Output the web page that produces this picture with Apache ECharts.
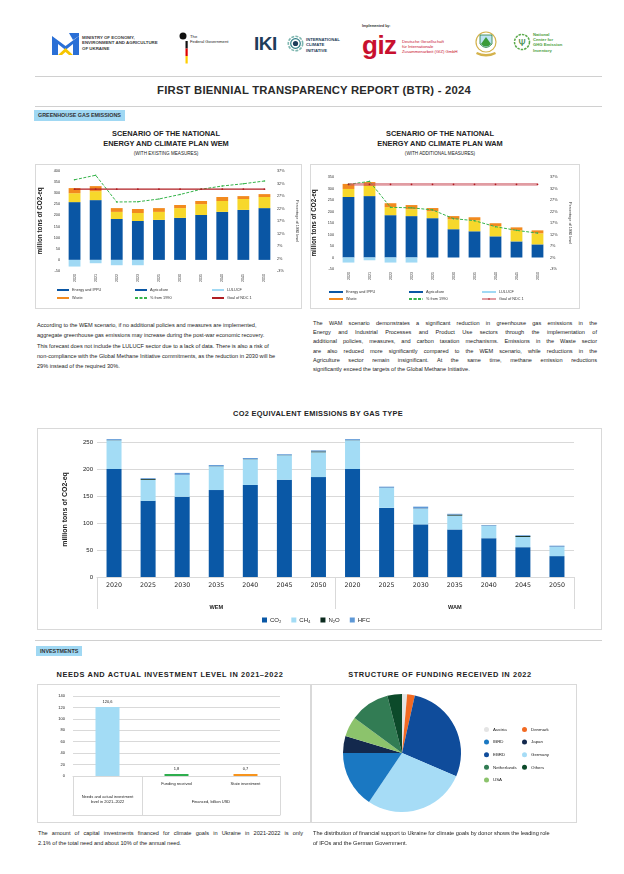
<!DOCTYPE html>
<html><head><meta charset="utf-8">
<script src="https://cdn.jsdelivr.net/npm/echarts@6/dist/echarts.min.js"></script>
<style>
html,body{margin:0;padding:0;background:#fff;}
body{width:624px;height:874px;position:relative;overflow:hidden;font-family:"Liberation Sans",Arial,sans-serif;color:#222;}
.abs{position:absolute;}
.hr{position:absolute;height:1px;background:#d0d0d0;left:35px;width:567px;}
.sec{position:absolute;background:#a0d8f3;font-weight:bold;font-size:5.4px;color:#333;padding:0 4px;line-height:11px;height:11px;}
.ctitle{position:absolute;text-align:center;font-weight:bold;color:#222;white-space:nowrap;transform:translateX(-50%);}
.box{position:absolute;border:1px solid #d9d9d9;box-sizing:border-box;}
.chart{position:absolute;left:0;top:0;right:0;bottom:0;}
.para{position:absolute;font-size:5.6px;white-space:nowrap;color:#222;}
.just div{text-align:justify;text-align-last:justify;}
.just div.last{text-align-last:left;}
.logo{position:absolute;font-weight:bold;white-space:nowrap;}
</style></head>
<body>

<!-- header logos -->
<svg class="abs" style="left:52px;top:33px" width="27" height="22" viewBox="0 0 27 22">
  <polygon points="0,3 13.5,13 27,3 27,22 21,22 21,11 13.5,17 6,11 6,22 0,22" fill="#2a6fd6"/>
  <polygon points="6,22 13.5,15 21,22 17,22 13.5,19 10,22" fill="#f6c500"/>
  <polygon points="17,0 27,0 27,3 21,7" fill="#2a6fd6"/>
</svg>
<div class="logo" style="left:82px;top:35px;font-size:4.4px;line-height:5.4px;color:#3a3a3a">MINISTRY OF ECONOMY,<br>ENVIRONMENT AND AGRICULTURE<br>OF UKRAINE</div>

<svg class="abs" style="left:179px;top:32px" width="10" height="32" viewBox="0 0 10 32">
  <ellipse cx="4" cy="4" rx="3.5" ry="3.5" fill="#111"/>
  <rect x="6.5" y="9" width="2.2" height="7.5" fill="#111"/>
  <rect x="6.5" y="16.5" width="2.2" height="7.5" fill="#dd0000"/>
  <rect x="6.5" y="24" width="2.2" height="7.5" fill="#ffce00"/>
</svg>
<div class="logo" style="left:190px;top:34px;font-size:4.2px;line-height:5px;color:#222;font-weight:normal">The<br>Federal Government</div>

<div class="logo" style="left:254px;top:33px;font-size:19px;line-height:22px;color:#1e3d5a;letter-spacing:-0.5px">IKI</div>
<svg class="abs" style="left:287px;top:35px" width="17" height="17" viewBox="0 0 17 17">
  <circle cx="8.5" cy="8.5" r="7.2" fill="none" stroke="#7fb7b0" stroke-width="1.6" stroke-dasharray="3 1.2"/>
  <circle cx="8.5" cy="8.5" r="4.8" fill="none" stroke="#2f7f86" stroke-width="1.2"/>
  <circle cx="8.5" cy="8.5" r="2.6" fill="#1e3d5a"/>
</svg>
<div class="logo" style="left:306px;top:37px;font-size:4.2px;line-height:5.3px;color:#1e3d5a">INTERNATIONAL<br>CLIMATE<br>INITIATIVE</div>

<div class="logo" style="left:362px;top:24px;font-size:3.6px;color:#333">Implemented by:</div>
<div class="logo" style="left:362px;top:31px;font-size:26px;line-height:28px;color:#c8102e;letter-spacing:-0.5px">giz</div>
<div class="logo" style="left:402px;top:39px;font-size:4.2px;line-height:5.2px;color:#c8102e;font-weight:normal">Deutsche Gesellschaft<br>für Internationale<br>Zusammenarbeit (GIZ) GmbH</div>

<svg class="abs" style="left:474px;top:30px" width="24" height="28" viewBox="0 0 24 28">
  <path d="M2,24 Q12,29 22,24 L21,22 Q12,26 3,22 Z" fill="#d4b24c"/>
  <circle cx="12" cy="12" r="10" fill="#fff" stroke="#d4b24c" stroke-width="1.2"/>
  <path d="M6,5 L18,5 L18,14 Q12,21 6,14 Z" fill="#bde3f3" stroke="#2a7f3a" stroke-width="0.8"/>
  <path d="M7,14 L12,7 L17,14 Q12,19 7,14 Z" fill="#3a9a3a"/>
</svg>

<svg class="abs" style="left:513px;top:32px" width="18" height="20" viewBox="0 0 18 20">
  <circle cx="9" cy="10" r="7.5" fill="none" stroke="#5aaa4a" stroke-width="1.5" stroke-dasharray="2.5 1"/>
  <text x="9" y="13.5" font-size="9" text-anchor="middle" fill="#2f7f3a" font-family="DejaVu Sans">Ψ</text>
</svg>
<div class="logo" style="left:533px;top:32px;font-size:4.2px;line-height:5.2px;color:#4a9e3a">National<br>Center for<br>GHG Emission<br>Inventory</div>

<div class="hr" style="top:76px"></div>
<div class="ctitle" style="left:314px;top:84px;font-size:11.3px;line-height:13px;letter-spacing:0.2px;color:#2a2a2a">FIRST BIENNIAL TRANSPARENCY REPORT (BTR) - 2024</div>
<div class="hr" style="top:106px"></div>
<div class="sec" style="left:34px;top:110px">GREENHOUSE GAS EMISSIONS</div>

<div class="ctitle" style="left:166px;top:129px;font-size:7.4px;line-height:10px">SCENARIO OF THE NATIONAL<br>ENERGY AND CLIMATE PLAN WEM</div>
<div class="ctitle" style="left:166px;top:151px;font-size:4.6px;font-weight:normal">(WITH EXISTING MEASURES)</div>
<div class="ctitle" style="left:440px;top:129px;font-size:7.4px;line-height:10px">SCENARIO OF THE NATIONAL<br>ENERGY AND CLIMATE PLAN WAM</div>
<div class="ctitle" style="left:440px;top:151px;font-size:4.6px;font-weight:normal">(WITH ADDITIONAL MEASURES)</div>

<div class="box" style="left:35px;top:164px;width:267px;height:145px"><div id="wem" class="chart"></div></div>
<div class="box" style="left:310px;top:164px;width:270px;height:145px"><div id="wam" class="chart"></div></div>

<div class="para" style="left:37px;top:320px;line-height:10.3px">
<div>According to the WEM scenario, if no additional policies and measures are implemented,</div>
<div>aggregate greenhouse gas emissions may increase during the post-war economic recovery.</div>
<div>This forecast does not include the LULUCF sector due to a lack of data. There is also a risk of</div>
<div>non-compliance with the Global Methane Initiative commitments, as the reduction in 2030 will be</div>
<div>29% instead of the required 30%.</div>
</div>
<div class="para just" style="left:313px;top:319px;width:284px;line-height:9.2px">
<div>The WAM scenario demonstrates a significant reduction in greenhouse gas emissions in the</div>
<div>Energy and Industrial Processes and Product Use sectors through the implementation of</div>
<div>additional policies, measures, and carbon taxation mechanisms. Emissions in the Waste sector</div>
<div>are also reduced more significantly compared to the WEM scenario, while reductions in the</div>
<div>Agriculture sector remain insignificant. At the same time, methane emission reductions</div>
<div class="last">significantly exceed the targets of the Global Methane Initiative.</div>
</div>

<div class="ctitle" style="left:318px;top:409px;font-size:7.4px;letter-spacing:0.3px">CO2 EQUIVALENT EMISSIONS BY GAS TYPE</div>
<div class="box" style="left:37px;top:428px;width:565px;height:202px"><div id="gas" class="chart"></div></div>

<div class="hr" style="top:640px"></div>
<div class="sec" style="left:36px;top:646px;height:10px;line-height:10px">INVESTMENTS</div>

<div class="ctitle" style="left:170px;top:670px;font-size:7.4px;letter-spacing:0.6px">NEEDS AND ACTUAL INVESTMENT LEVEL IN 2021–2022</div>
<div class="ctitle" style="left:440px;top:670px;font-size:7.4px;letter-spacing:0.6px">STRUCTURE OF FUNDING RECEIVED IN 2022</div>
<div class="box" style="left:37px;top:684px;width:275px;height:139px"><div id="inv" class="chart"></div></div>
<div class="box" style="left:310px;top:684px;width:267px;height:139px"><div id="pie" class="chart"></div></div>

<div class="para just" style="left:38px;top:828px;width:265px;line-height:10.2px">
<div>The amount of capital investments financed for climate goals in Ukraine in 2021-2022 is only</div>
<div class="last">2.1% of the total need and about 10% of the annual need.</div>
</div>
<div class="para" style="left:313px;top:828px;line-height:10.2px">
<div>The distribution of financial support to Ukraine for climate goals by donor shows the leading role</div>
<div>of IFOs and the German Government.</div>
</div>

<script>
// ---------- data ----------
const scenarioYears = ['2020','2021','2022','2023','2025','2030','2035','2040','2045','2050'];

const wemEnergyIppu  = [260, 269, 184, 175, 180, 189, 202, 216, 225, 233];
const wemAgriculture = [40, 40, 32, 36, 36, 44, 49, 49, 49, 50];
const wemLulucf      = [-30, -15, -24, -24, null, null, null, null, null, null];
const wemWaste       = [23, 23, 17, 18, 17, 14, 14, 18, 13, 13];
const wemPctFrom1990 = [33.5, 35.3, 24.6, 24.7, 25.8, 27.6, 29.7, 31.0, 31.9, 33.0];
const wemNdcGoal     = [318, 318, 318, 318, 318, 318, 318, 318, 318, 318];

const wamEnergyIppu  = [263, 267, 184, 180, 171, 123, 114, 92, 70, 57];
const wamAgriculture = [35, 44, 35, 30, 30, 43, 48, 44, 48, 48];
const wamLulucf      = [-22, -12, -22, -22, null, null, null, null, null, null];
const wamWaste       = [22, 17, 17, 18, 14, 14, 13, 13, 13, 13];
const wamPctFrom1990 = [33.8, 35.1, 23.8, 23.6, 22.7, 18.9, 18.0, 15.4, 13.8, 12.6];
const wamNdcGoal     = [318, 318, 318, 318, 318, 318, 318, 318, 318, 318];

const gasYears   = ['2020','2025','2030','2035','2040','2045','2050','2020','2025','2030','2035','2040','2045','2050'];
const gasGroups  = ['WEM','WAM'];
const gasCO2     = [200, 141, 148.5, 161, 170.5, 180, 185, 200, 128, 97.5, 88, 71.8, 55.2, 38.7];
const gasCH4     = [53, 39, 40.5, 44, 47.5, 45.5, 46, 53, 37, 29, 25.7, 22.7, 19, 17.1];
const gasN2O     = [0.3, 1.5, 0.3, 0.3, 0.3, 0.3, 1.5, 0.3, 0.3, 0.3, 1.8, 0.3, 1.8, 0.3];
const gasHFC     = [2, 1.5, 3.5, 2, 2, 1.5, 2, 2, 2, 3.5, 1.5, 1.2, 1.3, 1.9];

const investCategories = ['Needs and actual investment level in 2021–2022', 'Funding received', 'State investment'];
const investValues     = [120.6, 1.8, 0.7];
const investGroupLabels = ['Needs and actual investment\nlevel in 2021–2022', 'Financed, billion USD'];

const donors      = ['Austria','Denmark','EBRD','Germany','IBRD','Japan','USA','Netherlands','Others'];
const donorShares = [1.4, 2.1, 28.0, 28.0, 15.6, 4.6, 5.5, 10.9, 4.0];

// ---------- styles ----------
const F = '"Liberation Sans", Arial, sans-serif';
const C = {energy:'#0a56a4', agri:'#f7d82b', lulucf:'#a0d9f4', waste:'#f28a1e', pct:'#35b34a', ndc:'#b01e23'};

function scenarioOption(d, L) {
  const legendCol = (left, items) => ({
    orient:'vertical', left:left, top:L.lt, height:30, padding:0, itemWidth:L.iw, itemHeight:2, itemGap:L.lg,
    textStyle:{fontSize:3.8, color:'#333', fontFamily:F, padding:[0,0,0,-2]},
    data:items
  });
  return {
    animation:false,
    textStyle:{fontFamily:F},
    grid:{left:L.gl, right:L.gr, top:L.gt, bottom:L.gb, outerBoundsMode:'none', containLabel:false},
    xAxis:{type:'category', data:scenarioYears,
      axisLine:{show:false, onZero:false}, axisTick:{show:false},
      axisLabel:{rotate:90, fontSize:3.6, color:'#333', margin:3}},
    yAxis:[
      {type:'value', min:L.lmin, max:L.lmax, interval:50, splitLine:{show:false},
       axisLine:{show:false}, axisTick:{show:false},
       axisLabel:{fontSize:3.8, color:'#333', margin:4},
       name:'million tons of CO2-eq', nameLocation:'middle', nameGap:16, nameRotate:90,
       nameTextStyle:{fontSize:6.3, fontWeight:'bold', color:'#222'}},
      {type:'value', min:-3, max:37, interval:5, position:'right', splitLine:{show:false},
       axisLine:{show:false}, axisTick:{show:false},
       axisLabel:{formatter:'{value}%', fontSize:3.8, color:'#333', margin:2},
       name:'Percentage of 1990 level', nameLocation:'middle', nameRotate:-90, nameGap:L.rg,
       nameTextStyle:{fontSize:3.8, color:'#333'}}
    ],
    legend:[
      legendCol(L.c1, [{name:'Energy and IPPU', icon:'rect'}, {name:'Waste', icon:'rect'}]),
      legendCol(L.c2, [{name:'Agriculture', icon:'rect', itemStyle:{color:C.energy}}, {name:'% from 1990'}]),
      legendCol(L.c3, [{name:'LULUCF', icon:'rect'}, {name:'Goal of NDC 1'}])
    ],
    series:[
      {name:'Energy and IPPU', type:'bar', stack:'s', barWidth:'56%', data:d.energy, itemStyle:{color:C.energy}},
      {name:'Agriculture', type:'bar', stack:'s', data:d.agri, itemStyle:{color:C.agri}},
      {name:'LULUCF', type:'bar', stack:'s', data:d.lulucf, itemStyle:{color:C.lulucf}},
      {name:'Waste', type:'bar', stack:'s', data:d.waste, itemStyle:{color:C.waste}},
      {name:'% from 1990', type:'line', yAxisIndex:1, data:d.pct, symbol:'circle', symbolSize:1.6,
       lineStyle:{color:C.pct, width:1, type:[3,1.5]}, itemStyle:{color:C.pct}},
      {name:'Goal of NDC 1', type:'line', yAxisIndex:0, data:d.ndc, symbol:'circle', symbolSize:1.8,
       lineStyle:{color:L.ndcLine, width:L.ndcWidth}, itemStyle:{color:C.ndc}}
    ]
  };
}

echarts.init(document.getElementById('wem')).setOption(scenarioOption(
  {energy:wemEnergyIppu, agri:wemAgriculture, lulucf:wemLulucf, waste:wemWaste, pct:wemPctFrom1990, ndc:wemNdcGoal},
  {gl:28, gr:26, gt:6, gb:37, lmin:-50, lmax:400, rg:17, lt:123, lg:4, iw:12,
   c1:21, c2:98, c3:175, ndcLine:C.ndc, ndcWidth:1.2}));

echarts.init(document.getElementById('wam')).setOption(scenarioOption(
  {energy:wamEnergyIppu, agri:wamAgriculture, lulucf:wamLulucf, waste:wamWaste, pct:wamPctFrom1990, ndc:wamNdcGoal},
  {gl:27, gr:31, gt:12, gb:39, lmin:-50, lmax:350, rg:18, lt:125, lg:3, iw:14,
   c1:18, c2:97, c3:170, ndcLine:'rgba(205,90,100,0.6)', ndcWidth:2.6}));

// ---------- gas chart ----------
echarts.init(document.getElementById('gas')).setOption({
  animation:false,
  textStyle:{fontFamily:F},
  grid:{left:59, right:27, top:13, bottom:52, outerBoundsMode:'none', containLabel:false},
  xAxis:[
    {type:'category', data:gasYears, axisLine:{lineStyle:{color:'#d9d9d9'}}, axisTick:{show:false},
     axisLabel:{fontSize:6.3, color:'#222', margin:5, fontFamily:'"DejaVu Sans", sans-serif'}},
    {type:'category', data:gasGroups, position:'bottom', axisLine:{show:false},
     axisTick:{show:true, length:32, lineStyle:{color:'#d9d9d9'}},
     axisLabel:{fontSize:5.6, fontWeight:'bold', color:'#222', margin:27}}
  ],
  yAxis:{type:'value', min:0, max:250, interval:50,
    splitLine:{lineStyle:{color:'#d9d9d9'}}, axisLine:{show:false}, axisTick:{show:false},
    axisLabel:{fontSize:6, color:'#222', margin:4},
    name:'million tons of CO2-eq', nameLocation:'middle', nameGap:28, nameRotate:90,
    nameTextStyle:{fontSize:7, fontWeight:'bold', color:'#222'}},
  legend:{left:224, top:188, padding:0, itemWidth:5, itemHeight:5, itemGap:10, icon:'rect',
    textStyle:{fontSize:6, color:'#222', padding:[0,0,0,-2]},
    data:['CO₂','CH₄','N₂O','HFC']},
  series:[
    {name:'CO₂', type:'bar', stack:'g', barWidth:15, clip:false, data:gasCO2, itemStyle:{color:'#0a58a6'}},
    {name:'CH₄', type:'bar', stack:'g', clip:false, data:gasCH4, itemStyle:{color:'#a3dcf5'}},
    {name:'N₂O', type:'bar', stack:'g', clip:false, data:gasN2O, itemStyle:{color:'#0b2a1e'}},
    {name:'HFC', type:'bar', stack:'g', clip:false, data:gasHFC, itemStyle:{color:'#5e98d6'}}
  ]
});

// ---------- investment chart ----------
echarts.init(document.getElementById('inv')).setOption({
  animation:false,
  textStyle:{fontFamily:F},
  grid:{left:35, right:31, top:11, bottom:46, outerBoundsMode:'none', containLabel:false},
  xAxis:[
    {type:'category', data:investCategories, axisLine:{lineStyle:{color:'#d9d9d9'}}, axisTick:{show:false},
     axisLabel:{fontSize:4, color:'#222', margin:6, formatter:(v, i) => i === 0 ? '' : v}},
    {type:'value', min:0, max:3, position:'bottom', offset:39, splitLine:{show:false},
     axisLine:{show:true, lineStyle:{color:'#d9d9d9'}},
     axisTick:{show:true, inside:true, length:39, customValues:[0,1,3], lineStyle:{color:'#d9d9d9'}},
     axisLabel:{show:true, inside:true, customValues:[0.5, 2], margin:11, fontSize:4, color:'#222', lineHeight:5,
       formatter:(v) => v < 1 ? '{a|' + investGroupLabels[0].replace('\n', '}\n{a|') + '}' : investGroupLabels[1],
       rich:{a:{fontSize:4, lineHeight:5, color:'#222'}}}}
  ],
  yAxis:{type:'value', min:0, max:140, interval:20, splitLine:{lineStyle:{color:'#d9d9d9'}},
    axisLine:{show:false}, axisTick:{show:false}, axisLabel:{fontSize:4, color:'#222', margin:8}},
  series:[{type:'bar', barWidth:24, barMinHeight:2, xAxisIndex:0,
    data:investValues.map((v, i) => ({value:v, itemStyle:{color:['#a3dcf5','#2eae4e','#f7941d'][i]}})),
    label:{show:true, position:'top', distance:3, fontSize:4, color:'#222',
      formatter:(p) => String(p.value).replace('.', ',')}}]
});

// ---------- pie ----------
const donorColors = {Austria:'#e4e4e4', Denmark:'#f26a22', EBRD:'#0f4c9b', Germany:'#a6dcf6', IBRD:'#1a78c2',
  Japan:'#13294d', USA:'#8cc36c', Netherlands:'#327c54', Others:'#0c4a2a'};
const pieLegend = (left, names) => ({orient:'vertical', left:left, top:42, padding:0, icon:'circle', itemWidth:5, itemHeight:5,
  itemGap:7.6, textStyle:{fontSize:4.4, color:'#222', padding:[0,0,0,-1]}, data:names});
echarts.init(document.getElementById('pie')).setOption({
  animation:false,
  textStyle:{fontFamily:F},
  legend:[pieLegend(173, ['Austria','IBRD','EBRD','Netherlands','USA']), pieLegend(211, ['Denmark','Japan','Germany','Others'])],
  series:[{type:'pie', center:[91, 68], radius:59, startAngle:90, clockwise:true, label:{show:false},
    labelLine:{show:false}, emphasis:{disabled:true},
    data:donors.map((n, i) => ({name:n, value:donorShares[i], itemStyle:{color:donorColors[n]}}))}]
});
</script>
</body></html>
